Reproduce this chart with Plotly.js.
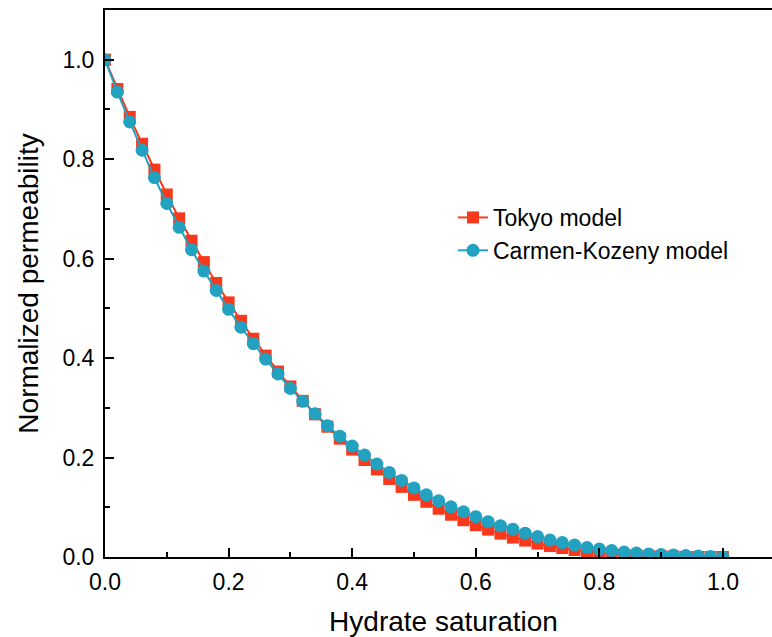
<!DOCTYPE html>
<html>
<head>
<meta charset="utf-8">
<script src="https://cdn.plot.ly/plotly-3.0.1.min.js"></script>
<style>
html,body{margin:0;padding:0;overflow:hidden;background:#fff;}
#chart{width:782px;height:637px;}
</style>
</head>
<body>
<div id="chart"></div>
<script>
// Hydrate saturation (x) values
const saturation = [0,0.02,0.04,0.06,0.08,0.10,0.12,0.14,0.16,0.18,0.20,0.22,0.24,0.26,0.28,0.30,0.32,0.34,0.36,0.38,0.40,0.42,0.44,0.46,0.48,0.50,0.52,0.54,0.56,0.58,0.60,0.62,0.64,0.66,0.68,0.70,0.72,0.74,0.76,0.78,0.80,0.82,0.84,0.86,0.88,0.90,0.92,0.94,0.96,0.98,1.00];
// Normalized permeability, Tokyo model
const tokyo = [1.000,0.941,0.885,0.831,0.779,0.729,0.681,0.636,0.593,0.551,0.512,0.475,0.439,0.405,0.373,0.343,0.314,0.287,0.262,0.238,0.216,0.195,0.176,0.157,0.141,0.125,0.111,0.097,0.085,0.074,0.064,0.055,0.047,0.039,0.033,0.027,0.022,0.018,0.014,0.011,0.008,0.006,0.004,0.003,0.002,0.001,0.001,0.000,0.000,0.000,0.000];
// Normalized permeability, Carmen-Kozeny model
const carmenKozeny = [1.000,0.935,0.875,0.818,0.763,0.711,0.663,0.618,0.575,0.536,0.498,0.462,0.429,0.398,0.368,0.339,0.313,0.288,0.264,0.243,0.223,0.205,0.187,0.170,0.154,0.139,0.125,0.113,0.101,0.091,0.081,0.071,0.063,0.056,0.048,0.041,0.034,0.029,0.024,0.019,0.016,0.013,0.010,0.008,0.006,0.005,0.004,0.003,0.002,0.001,0.000];
const seriesNames = ["Tokyo model", "Carmen-Kozeny model"];
const xTickVals = [0,0.2,0.4,0.6,0.8,1.0];
const xTickText = ["0.0","0.2","0.4","0.6","0.8","1.0"];
const yTickVals = [0,0.2,0.4,0.6,0.8,1.0];
const yTickText = ["0.0","0.2","0.4","0.6","0.8","1.0"];

const RED = "#F8391C";
const BLUE = "#22A1C1";
const FONT = "Liberation Sans, Arial, sans-serif";

const traces = [
  {x: saturation, y: tokyo, name: seriesNames[0], type: "scatter", mode: "lines+markers",
   legendgroup: "a",
   line: {color: RED, width: 2}, marker: {symbol: "square", size: 12, color: RED}},
  {x: saturation, y: carmenKozeny, name: seriesNames[1], type: "scatter", mode: "lines+markers",
   legendgroup: "b",
   line: {color: BLUE, width: 2}, marker: {symbol: "circle", size: 13, color: BLUE}}
];

const axisCommon = {
  showline: true, linecolor: "#000", linewidth: 2, mirror: true,
  ticks: "inside", ticklen: 9, tickwidth: 2, tickcolor: "#000",
  showgrid: false, zeroline: false,
  tickfont: {family: FONT, size: 23, color: "#000"},
  minor: {dtick: 0.1, ticks: "inside", ticklen: 5, tickwidth: 2, tickcolor: "#000", showgrid: false}
};

const layout = {
  width: 782, height: 637,
  margin: {l: 105, r: 0, t: 10, b: 80},
  paper_bgcolor: "#fff", plot_bgcolor: "#fff",
  showlegend: true,
  legend: {x: 0.514, y: 0.66, xanchor: "left", yanchor: "top",
           bgcolor: "rgba(0,0,0,0)", tracegroupgap: 0,
           font: {family: FONT, size: 23, color: "#000"}},
  xaxis: Object.assign({}, axisCommon, {
    range: [0, 1.0956], tickvals: xTickVals, ticktext: xTickText,
    ticklabelstandoff: 3,
    title: {text: "Hydrate saturation", font: {family: FONT, size: 28, color: "#000"}, standoff: 18},
    automargin: false
  }),
  yaxis: Object.assign({}, axisCommon, {
    range: [0, 1.1], tickvals: yTickVals, ticktext: yTickText,
    ticklabelstandoff: 4,
    title: {text: "Normalized permeability", font: {family: FONT, size: 28, color: "#000"}, standoff: 16},
    automargin: false
  })
};

Plotly.newPlot("chart", traces, layout, {displayModeBar: false, staticPlot: true});
</script>
</body>
</html>
